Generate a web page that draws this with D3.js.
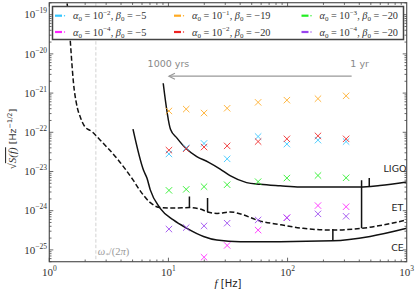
<!DOCTYPE html>
<html><head><meta charset="utf-8">
<script src="https://cdn.jsdelivr.net/npm/d3@7"></script>
<style>body{margin:0;background:#fff}</style>
</head><body>
<svg id="c" width="415" height="291"></svg>
<script>
// ---------- data ----------
const freqs = [10.1, 14.1, 19.9, 31.1, 56.6, 98.7, 180, 310];
const cyanVals    = [2.8e-23, 4.0e-23, 5.2e-23, 2.1e-23, 7.8e-23, 5.0e-23, 6.3e-23, 5.8e-23];
const magentaVals = [null, null, 6.5e-26, 1.3e-25, 3.2e-25, 6.6e-25, 1.35e-24, 1.26e-24];
const orangeVals  = [3.5e-22, 3.9e-22, 3.1e-22, 4.1e-22, 5.8e-22, 6.6e-22, 7.2e-22, 8.5e-22];
const redVals     = [3.5e-23, 3.8e-23, 4.2e-23, 4.5e-23, 5.8e-23, 6.8e-23, 8.1e-23, 6.8e-23];
const greenVals   = [3.3e-24, 3.5e-24, 4.1e-24, 4.6e-24, 5.5e-24, 6.8e-24, 7.9e-24, 6.9e-24];
const purpleVals  = [3.4e-25, 3.7e-25, 4.1e-25, 4.8e-25, 5.8e-25, 6.6e-25, 8.3e-25, 7.2e-25];

const seriesColors = ["#33c6ff", "#ff22ff", "#ffaa22", "#ee2222", "#22ee22", "#9944ee"];
const alphaExps = [-2, -4, -1, -2, -3, -4];
const betaVals  = [-5, -5, -19, -20, -20, -20];

const ligoF = [9.04, 10.4, 11.8, 14.0, 17.3, 21.6, 27.2, 32.9, 45.3, 58.9, 86.6, 127, 187, 275, 405, 595, 1000];
const ligoS = [1.78e-21, 1.2e-22, 7.1e-23, 3.9e-23, 2.4e-23, 1.74e-23, 1.15e-23, 7.8e-24, 5.2e-24, 4.7e-24, 4.3e-24, 4.0e-24, 4.0e-24, 4.0e-24, 4.0e-24, 4.4e-24, 5.4e-24];
const etF = [1.38, 1.41, 1.62, 1.72, 1.82, 1.97, 2.30, 2.68, 3.72, 5.06, 5.80, 7.05, 8.52, 11.4, 15.0, 18.5, 21.3, 25.6, 33.0, 42.7, 55.0, 86.6, 135, 240, 418, 1000];
const etS = [3.0e-19, 1.95e-19, 1.2e-21, 4.2e-22, 2.45e-22, 1.45e-22, 1.02e-22, 6.3e-23, 2.1e-23, 6.0e-24, 3.2e-24, 1.6e-24, 1.2e-24, 1.17e-24, 1.2e-24, 1.1e-24, 9.3e-25, 8.5e-25, 9.3e-25, 7.8e-25, 5.8e-25, 4.4e-25, 3.55e-25, 3.2e-25, 3.55e-25, 5.8e-25];
const ceF = [5.04, 6.18, 6.60, 7.04, 8.53, 11.0, 14.3, 19.7, 25.5, 40.0, 86.7, 240, 493, 1000];
const ceS = [1.2e-22, 1.07e-23, 6.8e-24, 3.4e-24, 1.15e-24, 5.8e-25, 3.55e-25, 2.2e-25, 1.78e-25, 1.62e-25, 1.62e-25, 1.7e-25, 2.2e-25, 3.55e-25];

// spikes: frequency, base value, peak value
const spikeF    = [485, 15.0, 21.3, 418, 240];
const spikeBase = [4.1e-24, 1.2e-24, 9.3e-25, 3.55e-25, 1.7e-25];
const spikePeak = [6.8e-24, 2.3e-24, 2.1e-24, 6.0e-24, 3.4e-25];

const curveNames = ["LIGO", "ET", "CE"];
const omegaStarF = 2.46;
const arrowF = [345, 10.1];      // from 1 yr to 1000 yrs
const arrowS = 2.7e-21;
const arrowLabels = ["1 yr", "1000 yrs"];
const xTickExps = [0, 1, 2, 3];
const yTickExps = [-25, -24, -23, -22, -21, -20, -19];

// ---------- layout ----------
const svg = d3.select("#c");
const L = 49.3, R = 406.7, T = 2.7, B = 261.7;
const x = d3.scaleLog().domain([1, 1000]).range([L, R]);
const y = d3.scaleLog().domain([5.0e-26, 2.02e-19]).range([B, T]);
const serif = "'Liberation Serif','DejaVu Serif',serif";
const sans = "'DejaVu Sans','Liberation Sans',sans-serif";

svg.append("defs").append("clipPath").attr("id","clip")
  .append("rect").attr("x",L).attr("y",T).attr("width",R-L).attr("height",B-T);
const g = svg.append("g").attr("clip-path","url(#clip)");

// omega* line
g.append("line").attr("x1",x(omegaStarF)).attr("x2",x(omegaStarF)).attr("y1",T).attr("y2",B)
  .attr("stroke","#c8c8c8").attr("stroke-width",0.8).attr("stroke-dasharray","3.5,2");
svg.append("text").attr("x",x(omegaStarF)+2).attr("y",255).attr("font-family",serif)
  .attr("font-size",10.5).attr("fill","#999").attr("font-style","italic")
  .call(t=>{t.append("tspan").text("ω");t.append("tspan").attr("font-size",7).attr("dy",2).text("*");
            t.append("tspan").attr("dy",-2).attr("font-style","normal").text("/(2");
            t.append("tspan").text("π");t.append("tspan").attr("font-style","normal").text(")");});

// curves
const line = d3.line().x(d=>x(d[0])).y(d=>y(d[1])).curve(d3.curveMonotoneX);
g.append("path").attr("d", line(ligoF.map((f,i)=>[f,ligoS[i]])))
  .attr("fill","none").attr("stroke","#111").attr("stroke-width",1.5);
g.append("path").attr("d", line(etF.map((f,i)=>[f,etS[i]])))
  .attr("fill","none").attr("stroke","#111").attr("stroke-width",1.5).attr("stroke-dasharray","5,2.5");
g.append("path").attr("d", line(ceF.map((f,i)=>[f,ceS[i]])))
  .attr("fill","none").attr("stroke","#111").attr("stroke-width",1.5);
spikeF.forEach((f,i)=>{
  g.append("line").attr("x1",x(f)).attr("x2",x(f)).attr("y1",y(spikeBase[i])).attr("y2",y(spikePeak[i]))
   .attr("stroke","#111").attr("stroke-width",1.5);
});

// crosses
const allVals = [cyanVals, magentaVals, orangeVals, redVals, greenVals, purpleVals];
allVals.forEach((vals,si)=>{
  freqs.forEach((f,i)=>{
    const v = vals[i]; if (v==null) return;
    const cx = x(f), cy = y(v), h = 3.2;
    g.append("path").attr("d",`M${cx-h},${cy-h}L${cx+h},${cy+h}M${cx-h},${cy+h}L${cx+h},${cy-h}`)
     .attr("stroke",seriesColors[si]).attr("stroke-width",1).attr("fill","none").attr("opacity",0.85);
  });
});

// arrow
const ax1 = x(arrowF[0]), ax2 = x(arrowF[1]), ay = y(arrowS);
svg.append("line").attr("x1",ax1).attr("x2",ax2).attr("y1",ay).attr("y2",ay)
  .attr("stroke","#999").attr("stroke-width",1.2);
svg.append("path").attr("d",`M${ax2+6},${ay-3}L${ax2},${ay}L${ax2+6},${ay+3}`)
  .attr("stroke","#999").attr("stroke-width",1.2).attr("fill","none");
svg.append("text").attr("x",ax1+8).attr("y",ay-9.5).attr("text-anchor","middle").attr("font-family",sans)
  .attr("font-size",9.5).attr("fill","#888").text(arrowLabels[0]);
svg.append("text").attr("x",ax2-0.5).attr("y",ay-9.5).attr("text-anchor","middle").attr("font-family",sans)
  .attr("font-size",9.5).attr("fill","#888").text(arrowLabels[1]);

// curve labels
const labelPos = [[395, 172], [397.5, 210.5], [397.5, 250.5]];
curveNames.forEach((n,i)=>{
  svg.append("text").attr("x",labelPos[i][0]).attr("y",labelPos[i][1]).attr("text-anchor","middle")
    .attr("font-family",sans).attr("font-size",9.5).attr("fill","#222").text(n);
});

// axes frame
svg.append("rect").attr("x",L).attr("y",T).attr("width",R-L).attr("height",B-T)
  .attr("fill","none").attr("stroke","#555").attr("stroke-width",1.2);

// ticks
const axg = svg.append("g").attr("stroke","#444").attr("stroke-width",0.8);
for (let e=0;e<3;e++) for (let m=1;m<10;m++){
  const f = m*Math.pow(10,e); const px = x(f); const len = m===1?4:2.2;
  axg.append("line").attr("x1",px).attr("x2",px).attr("y1",B).attr("y2",B-len);
  axg.append("line").attr("x1",px).attr("x2",px).attr("y1",T).attr("y2",T+len);
}
for (let e=-26;e<-18;e++) for (let m=1;m<10;m++){
  const v = m*Math.pow(10,e); if (v<5e-26||v>2.02e-19) continue;
  const py = y(v); const len = m===1?4:2.2;
  axg.append("line").attr("x1",L).attr("x2",L+len).attr("y1",py).attr("y2",py);
  axg.append("line").attr("x1",R).attr("x2",R-len).attr("y1",py).attr("y2",py);
}
xTickExps.forEach(e=>{
  const t = svg.append("text").attr("x",x(Math.pow(10,e))).attr("y",276).attr("text-anchor","middle")
    .attr("font-family",serif).attr("font-size",11).attr("fill","#333");
  t.append("tspan").text("10");
  t.append("tspan").attr("font-size",7.5).attr("dy",-5).text(String(e));
});
yTickExps.forEach(e=>{
  const t = svg.append("text").attr("x",47).attr("y",y(Math.pow(10,e))+3.8).attr("text-anchor","end")
    .attr("font-family",serif).attr("font-size",11).attr("fill","#333");
  t.append("tspan").text("10");
  t.append("tspan").attr("font-size",7.5).attr("dy",-5).text("−"+Math.abs(e));
});

// axis labels
svg.append("text").attr("x",228).attr("y",287).attr("text-anchor","middle").attr("font-size",11).attr("fill","#222")
  .call(t=>{t.append("tspan").attr("font-family",serif).attr("font-style","italic").text("f");
            t.append("tspan").attr("font-family",sans).attr("font-size",10).text(" [Hz]");});
const yl = svg.append("text").attr("transform","translate(16,139) rotate(-90)").attr("text-anchor","middle")
  .attr("font-size",11).attr("fill","#333");
yl.append("tspan").attr("font-family",serif).text("√");
yl.append("tspan").attr("font-family",serif).attr("font-style","italic").attr("text-decoration","overline").text("S(f)");
yl.append("tspan").attr("font-family",sans).attr("font-size",9.5).text(" [Hz");
yl.append("tspan").attr("font-family",sans).attr("font-size",6.5).attr("dy",-4).text("−1/2");
yl.append("tspan").attr("font-family",sans).attr("font-size",9.5).attr("dy",4).text("]");

// legend
svg.append("rect").attr("x",52.5).attr("y",6.5).attr("width",351).attr("height",33)
  .attr("fill","#fff").attr("stroke","#444").attr("stroke-width",1.5);
const colX = [55, 174, 301.5];
const rowY = [15.7, 32];
seriesColors.forEach((c,i)=>{
  const col = Math.floor(i/2), row = i%2;
  const mx = colX[col], my = rowY[row];
  svg.append("line").attr("x1",mx).attr("x2",mx+7).attr("y1",my).attr("y2",my)
    .attr("stroke",c).attr("stroke-width",2.2);
  svg.append("circle").attr("cx",mx+9.5).attr("cy",my).attr("r",0.7).attr("fill",c);
  const t = svg.append("text").attr("x",mx+18).attr("y",my+3.5).attr("font-family",serif)
    .attr("font-size",10.3).attr("fill","#333");
  t.append("tspan").attr("font-style","italic").text("α");
  t.append("tspan").attr("font-size",7).attr("dy",2).text("0");
  t.append("tspan").attr("dy",-2).text(" = 10");
  t.append("tspan").attr("font-size",7).attr("dy",-4.5).text("−"+Math.abs(alphaExps[i]));
  t.append("tspan").attr("dy",4.5).text(",  ");
  t.append("tspan").attr("font-style","italic").text("β");
  t.append("tspan").attr("font-size",7).attr("dy",2).text("0");
  t.append("tspan").attr("dy",-2).text(" = −"+Math.abs(betaVals[i]));
});
</script>
</body></html>
